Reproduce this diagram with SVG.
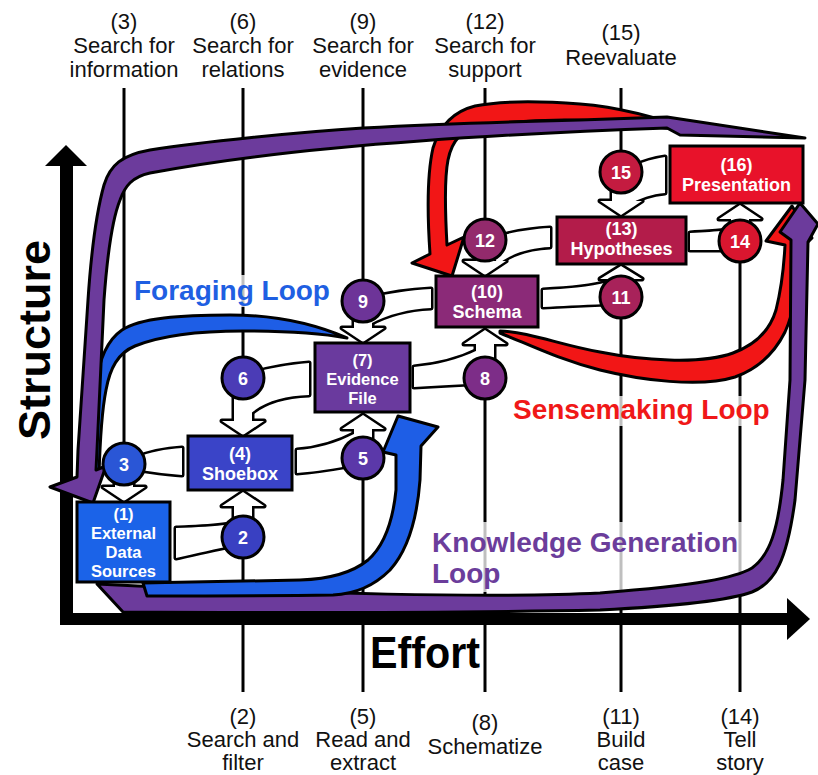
<svg xmlns="http://www.w3.org/2000/svg" xmlns:xlink="http://www.w3.org/1999/xlink" width="818" height="775" viewBox="0 0 818 775">
<style>
.lbl{font-family:"Liberation Sans",Arial,sans-serif;font-size:22px;fill:#111;text-anchor:middle}
.grid{stroke:#000;stroke-width:3;fill:none}
.loop{stroke:#000;stroke-width:3;stroke-linejoin:round}
.co{fill:#000;stroke:#000;stroke-width:5;stroke-linejoin:round}
.ci{fill:#fff;stroke:none}
.box{stroke:#000;stroke-width:3}
.circ{stroke:#000;stroke-width:3}
.bt{font-family:"Liberation Sans",Arial,sans-serif;font-size:18px;font-weight:bold;fill:#fff;text-anchor:middle}
.bs{font-family:"Liberation Sans",Arial,sans-serif;font-size:16.5px;font-weight:bold;fill:#fff;text-anchor:middle}
.ct{font-family:"Liberation Sans",Arial,sans-serif;font-size:18px;font-weight:bold;fill:#fff;text-anchor:middle}
.big{font-family:"Liberation Sans",Arial,sans-serif;font-weight:bold;fill:#000}
.ll{font-family:"Liberation Sans",Arial,sans-serif;font-weight:bold;font-size:28px}
</style>
<defs>
<g id="s2"><path d="M176,528 C198,527 214,527 230,524 L236,545 C215,549 198,553 176,558 Z"/><polygon points="243,492 264,506 252,506 252,527 234,527 234,506 222,506"/></g>
<g id="s3"><path d="M182,448 C165,449 150,452 135,458 L140,470 C155,472 168,474 182,475 Z"/><polygon points="124,501 145,487 133,487 133,474 115,474 115,487 103,487"/></g>
<g id="s5"><path d="M297,450 C315,449 335,444 356,433 L363,458 L348,466 C325,470 310,472 297,473 Z"/><polygon points="363,415 384,429 372,429 372,448 354,448 354,429 342,429"/></g>
<g id="s6"><path d="M309,363 C285,365 265,369 250,374 L243,378 L250,414 C265,401 285,396 309,395 Z"/><polygon points="243,435 264,421 252,421 252,388 234,388 234,421 222,421"/></g>
<g id="s8"><path d="M414,367 C435,365 458,360 478,350 L485,378 L468,384 C448,385 430,386 414,387 Z"/><polygon points="485,330 506,344 494,344 494,368 476,368 476,344 464,344"/></g>
<g id="s9"><path d="M431,289 C410,290 385,294 370,298 L363,301 L370,324 C388,314 410,309 431,308 Z"/><polygon points="363,342 384,328 372,328 372,311 354,311 354,328 342,328"/></g>
<g id="s11"><path d="M543,290 C565,289 590,287 608,282 L621,297 L606,304 C580,305 560,306 543,307 Z"/><polygon points="621,266 642,279 630,279 630,287 612,287 612,279 600,279"/></g>
<g id="s12"><path d="M550,228 C528,229 505,234 492,238 L485,240 L498,264 C512,253 530,248 550,247 Z"/><polygon points="485,275 506,261 494,261 494,250 476,250 476,261 464,261"/></g>
<g id="s14"><path d="M690,233 C705,232 715,232 726,230 L740,241 L726,250 C712,250 700,250 690,250 Z"/><polygon points="740,205 761,219 749,219 749,231 731,231 731,219 719,219"/></g>
<g id="s15"><path d="M665,157 C650,159 635,165 628,168 L621,172 L628,205 C640,198 652,194 665,193 Z"/><polygon points="621,215 642,201 630,201 630,182 612,182 612,201 600,201"/></g>
</defs>
<rect width="818" height="775" fill="#fff"/>

<g id="labels">
<text class="lbl" x="124" y="29">(3)</text><text class="lbl" x="124" y="53">Search for</text><text class="lbl" x="124" y="77">information</text>
<text class="lbl" x="243" y="29">(6)</text><text class="lbl" x="243" y="53">Search for</text><text class="lbl" x="243" y="77">relations</text>
<text class="lbl" x="363" y="29">(9)</text><text class="lbl" x="363" y="53">Search for</text><text class="lbl" x="363" y="77">evidence</text>
<text class="lbl" x="485" y="29">(12)</text><text class="lbl" x="485" y="53">Search for</text><text class="lbl" x="485" y="77">support</text>
<text class="lbl" x="621" y="40">(15)</text><text class="lbl" x="621" y="65">Reevaluate</text>
<text class="lbl" x="243" y="724">(2)</text><text class="lbl" x="243" y="747">Search and</text><text class="lbl" x="243" y="770">filter</text>
<text class="lbl" x="363" y="724">(5)</text><text class="lbl" x="363" y="747">Read and</text><text class="lbl" x="363" y="770">extract</text>
<text class="lbl" x="485" y="730">(8)</text><text class="lbl" x="485" y="754">Schematize</text>
<text class="lbl" x="621" y="724">(11)</text><text class="lbl" x="621" y="747">Build</text><text class="lbl" x="621" y="770">case</text>
<text class="lbl" x="740" y="724">(14)</text><text class="lbl" x="740" y="747">Tell</text><text class="lbl" x="740" y="770">story</text>
</g>

<g id="gridlines" class="grid">
<line x1="124" y1="88" x2="124" y2="444"/>
<line x1="243" y1="88" x2="243" y2="358"/>
<line x1="363" y1="88" x2="363" y2="281"/>
<line x1="485" y1="88" x2="485" y2="220"/>
<line x1="621" y1="88" x2="621" y2="152"/>
<line x1="243" y1="557" x2="243" y2="692"/>
<line x1="363" y1="478" x2="363" y2="692"/>
<line x1="485" y1="398" x2="485" y2="692"/>
<line x1="621" y1="317" x2="621" y2="692"/>
<line x1="740" y1="261" x2="740" y2="692"/>
</g>
<g id="fades" fill="#fff" opacity="0.75">
<rect x="130" y="275" width="202" height="32"/>
<rect x="510" y="396" width="264" height="30"/>
<rect x="430" y="522" width="316" height="70"/>
</g>

<g id="axes" fill="#000">
<rect x="60" y="163" width="13" height="462"/>
<polygon points="45,166 66,145 87,166"/>
<rect x="60" y="613" width="730" height="12"/>
<polygon points="787,598 810,619 787,640"/>
<text class="big" font-size="45" textLength="110" lengthAdjust="spacingAndGlyphs" x="370" y="668">Effort</text>
<text class="big" font-size="45" text-anchor="middle" transform="translate(50,340) rotate(-90)">Structure</text>
</g>

<g id="loops" class="loop">
<path id="red-top" fill="#f21616" d="M700,133 C660,118 620,107 580,104 C540,101 500,101 475,106 C455,111 440,125 433,148 C428,170 427,210 430,254 L412,263 L452,276 L464,237 L447,245 C445,210 444,180 448,160 C452,140 462,130 480,126 C520,120 560,119 600,121 C640,124 670,128 700,133 Z"/>
<path id="red-bottom" fill="#f21616" d="M500,331 C530,332 560,345 600,352 C640,360 700,365 733,353 C755,345 770,330 776,310 C781,290 784,265 785,245 L766,241 L792,206 L812,238 L800,250 C799,280 795,310 785,332 C775,352 760,368 735,377 C700,388 640,380 600,370 C560,360 530,345 500,333 Z"/>
<path id="blue-top" fill="#1e5ee6" d="M347,338 C310,322 270,315 230,315 C180,315 140,318 122,330 C106,341 99,360 96,385 C93,410 91,440 89,476 L99,476 C100,440 102,410 106,390 C110,368 118,353 135,346 C160,336 200,331 243,331 C290,331 325,334 347,338 Z"/>
<path id="purple-bottom" fill="#6c3b9c" d="M97,584 L123,612 C300,613 500,612 600,610 C680,606 730,600 752,592 C775,583 787,560 795,500 L805,380 L808,242 L818,224 L800,203 L780,232 L791,240 L790,380 L783,480 C778,530 770,555 752,568 C735,578 700,585 600,593 C500,598 300,594 97,584 Z"/>
<path id="blue-bottom" fill="#1e5ee6" d="M143,583 C200,582 260,581 300,580 C330,579 352,573 368,560 C385,545 393,520 396,490 L396,455 L383,452 L398,416 L438,427 L421,446 L420,480 C417,520 408,550 390,570 C375,585 355,594 333,595 C270,596 200,596 147,596 Z"/>
<path id="purple-top" fill="#6c3b9c" d="M805,138 L667,117 L580,120 C500,122 420,125 363,128 C300,132 200,142 150,150 C122,155 110,165 104,185 C97,210 92,240 88,300 L78,450 L77,477 L50,487 L93,503 L106,466 L96,470 L97,450 L104,300 C108,245 114,215 120,200 C125,186 132,177 150,173 C220,160 320,148 420,141 C500,135 580,131 667,128 L680,135 Z"/>
</g>

<g id="connectors">
<use xlink:href="#s2" class="co"/><use xlink:href="#s3" class="co"/><use xlink:href="#s5" class="co"/><use xlink:href="#s6" class="co"/><use xlink:href="#s8" class="co"/><use xlink:href="#s9" class="co"/><use xlink:href="#s11" class="co"/><use xlink:href="#s12" class="co"/><use xlink:href="#s14" class="co"/><use xlink:href="#s15" class="co"/>
<use xlink:href="#s2" class="ci"/><use xlink:href="#s3" class="ci"/><use xlink:href="#s5" class="ci"/><use xlink:href="#s6" class="ci"/><use xlink:href="#s8" class="ci"/><use xlink:href="#s9" class="ci"/><use xlink:href="#s11" class="ci"/><use xlink:href="#s12" class="ci"/><use xlink:href="#s14" class="ci"/><use xlink:href="#s15" class="ci"/>
</g>

<g id="c3"><circle class="circ" cx="124" cy="464" r="21" fill="#2a56d6"/><text class="ct" x="124" y="470.5">3</text></g>
<g id="c2"><circle class="circ" cx="243" cy="537" r="21" fill="#3940c2"/><text class="ct" x="243" y="543.5">2</text></g>
<g id="c6"><circle class="circ" cx="243" cy="378" r="21" fill="#4b3cb6"/><text class="ct" x="243" y="384.5">6</text></g>
<g id="c5"><circle class="circ" cx="363" cy="458" r="21" fill="#5b38a9"/><text class="ct" x="363" y="464.5">5</text></g>
<g id="c9"><circle class="circ" cx="363" cy="301" r="21" fill="#6d3498"/><text class="ct" x="363" y="307.5">9</text></g>
<g id="c8"><circle class="circ" cx="485" cy="378" r="21" fill="#7d2d88"/><text class="ct" x="485" y="384.5">8</text></g>
<g id="c12"><circle class="circ" cx="485" cy="240" r="21" fill="#932a6c"/><text class="ct" x="485" y="246.5">12</text></g>
<g id="c11"><circle class="circ" cx="621" cy="297" r="21" fill="#a8225a"/><text class="ct" x="621" y="303.5">11</text></g>
<g id="c15"><circle class="circ" cx="621" cy="172" r="21" fill="#c41b40"/><text class="ct" x="621" y="178.5">15</text></g>
<g id="c14"><circle class="circ" cx="740" cy="241" r="21" fill="#d9162f"/><text class="ct" x="740" y="247.5">14</text></g>

<g id="n1"><rect class="box" x="77" y="502" width="93" height="80" fill="#1b63e8"/><text class="bs" x="123.5" y="520">(1)</text><text class="bs" x="123.5" y="539">External</text><text class="bs" x="123.5" y="558">Data</text><text class="bs" x="123.5" y="577">Sources</text></g>
<g id="n4"><rect class="box" x="188" y="436" width="104" height="54" fill="#3a44c8"/><text class="bt" x="240" y="460">(4)</text><text class="bt" x="240" y="480">Shoebox</text></g>
<g id="n7"><rect class="box" x="315" y="343" width="95" height="69" fill="#6a3a9e"/><text class="bs" x="362.5" y="366">(7)</text><text class="bs" x="362.5" y="385">Evidence</text><text class="bs" x="362.5" y="404">File</text></g>
<g id="n10"><rect class="box" x="436" y="276" width="102" height="51" fill="#8b2a78"/><text class="bt" x="487" y="298">(10)</text><text class="bt" x="487" y="318">Schema</text></g>
<g id="n13"><rect class="box" x="557" y="217" width="129" height="47" fill="#b31c4a"/><text class="bt" x="621.5" y="235">(13)</text><text class="bt" x="621.5" y="255">Hypotheses</text></g>
<g id="n16"><rect class="box" x="670" y="146" width="133" height="57" fill="#e8122a"/><text class="bt" x="736.5" y="171">(16)</text><text class="bt" x="736.5" y="191">Presentation</text></g>

<g id="loop-labels">
<text class="ll" x="134" y="300" fill="#1f5fe2">Foraging Loop</text>
<text class="ll" x="513" y="419" fill="#f01818">Sensemaking Loop</text>
<text class="ll" x="432" y="552" fill="#6b3d9b" textLength="306">Knowledge Generation</text>
<text class="ll" x="432" y="583" fill="#6b3d9b">Loop</text>
</g>
</svg>
